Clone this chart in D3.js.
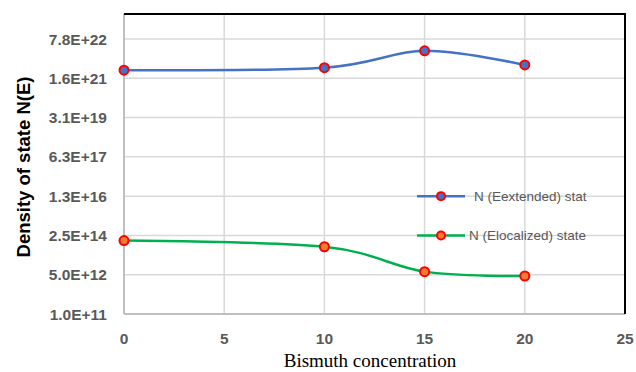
<!DOCTYPE html>
<html>
<head>
<meta charset="utf-8">
<script src="https://cdn.jsdelivr.net/npm/d3@7/dist/d3.min.js"></script>
<style>
  body { margin: 0; background: #fff; }
  svg { display: block; }
  .tick-label { font-family: "Liberation Sans", Arial, sans-serif; font-weight: bold; font-size: 15.5px; fill: #595959; }
</style>
</head>
<body>
<div id="chart"></div>
<script>
// data
var concentration = [0, 10, 15, 20],
    extendedState = [3.5e21, 4.5e21, 2.4e22, 5.9e21],
    localizedState = [1.5e14, 8.1e13, 6.8e12, 4.4e12];

var seriesNames = ["N (Eextended) stat", "N (Elocalized) state"];

var xTicks = [0, 5, 10, 15, 20, 25],
    yTicks = [1e11, 5e12, 2.5e14, 1.25e16, 6.25e17, 3.125e19, 1.5625e21, 7.8125e22],
    yTickLabels = ["1.0E+11", "5.0E+12", "2.5E+14", "1.3E+16", "6.3E+17", "3.1E+19", "1.6E+21", "7.8E+22"];

var W = 636, H = 372,
    plot = { l: 124, r: 625, t: 14, b: 314 };

var svg = d3.select("#chart")
  .append("svg")
    .attr("width", W)
    .attr("height", H);

var x = d3.scaleLinear()
      .domain([0, 25])
      .range([plot.l, plot.r]),
    // Excel log axis, base 50
    y = d3.scaleLog()
      .base(50)
      .domain([yTicks[0], yTicks[yTicks.length - 1]])
      .range([plot.b, 39]);

// grid
var grid = svg.append("g").attr("class", "grid");
grid.selectAll(".hgrid")
  .data(yTicks)
  .enter().append("line")
    .attr("x1", plot.l).attr("x2", plot.r)
    .attr("y1", function(d) { return y(d); })
    .attr("y2", function(d) { return y(d); })
    .attr("stroke", "#d9d9d9")
    .attr("stroke-width", 1.5);
grid.selectAll(".vgrid")
  .data(xTicks)
  .enter().append("line")
    .attr("x1", function(d) { return x(d); })
    .attr("x2", function(d) { return x(d); })
    .attr("y1", plot.t).attr("y2", plot.b)
    .attr("stroke", "#d9d9d9")
    .attr("stroke-width", 1.5);

// axis lines
svg.append("line")
    .attr("x1", plot.l).attr("x2", plot.r)
    .attr("y1", plot.b).attr("y2", plot.b)
    .attr("stroke", "#bfbfbf").attr("stroke-width", 2);
svg.append("line")
    .attr("x1", plot.l).attr("x2", plot.l)
    .attr("y1", plot.t).attr("y2", plot.b)
    .attr("stroke", "#bfbfbf").attr("stroke-width", 2);

// black frame on top and right
svg.append("path")
    .attr("d", "M" + plot.l + "," + plot.t + "H" + plot.r + "V" + plot.b)
    .attr("fill", "none")
    .attr("stroke", "#000")
    .attr("stroke-width", 2);

// tick labels
svg.selectAll(".ylab")
  .data(yTicks)
  .enter().append("text")
    .attr("class", "tick-label")
    .attr("x", 107)
    .attr("y", function(d) { return y(d); })
    .attr("dy", "0.36em")
    .attr("text-anchor", "end")
    .text(function(d, i) { return yTickLabels[i]; });
svg.selectAll(".xlab")
  .data(xTicks)
  .enter().append("text")
    .attr("class", "tick-label")
    .attr("x", function(d) { return x(d); })
    .attr("y", 344)
    .attr("text-anchor", "middle")
    .text(function(d) { return d; });

// axis titles
svg.append("text")
    .attr("transform", "translate(30," + ((plot.t + plot.b) / 2 + 3) + ") rotate(-90)")
    .attr("text-anchor", "middle")
    .style("font-family", "'Liberation Sans', Arial, sans-serif")
    .style("font-weight", "bold")
    .style("font-size", "18.5px")
    .attr("fill", "#000")
    .text("Density of state N(E)");
svg.append("text")
    .attr("x", 370)
    .attr("y", 367)
    .attr("text-anchor", "middle")
    .style("font-family", "'Liberation Serif', 'Times New Roman', serif")
    .style("font-size", "19px")
    .attr("fill", "#000")
    .text("Bismuth concentration");

// series
var series = [
  { name: seriesNames[0], values: extendedState, line: "#4472c4", fill: "#4472c4" },
  { name: seriesNames[1], values: localizedState, line: "#00b050", fill: "#ed7d31" }
];

var lineGen = d3.line()
    .x(function(d) { return x(d[0]); })
    .y(function(d) { return y(d[1]); })
    .curve(d3.curveCatmullRom.alpha(0));

series.forEach(function(s) {
  var pts = concentration.map(function(c, i) { return [c, s.values[i]]; });
  svg.append("path")
      .datum(pts)
      .attr("d", lineGen)
      .attr("fill", "none")
      .attr("stroke", s.line)
      .attr("stroke-width", 2.5);
  svg.selectAll(null)
    .data(pts)
    .enter().append("circle")
      .attr("cx", function(d) { return x(d[0]); })
      .attr("cy", function(d) { return y(d[1]); })
      .attr("r", 4.5)
      .attr("fill", s.fill)
      .attr("stroke", "#ff0000")
      .attr("stroke-width", 2);
});

// legend, sits on the 1.3E+16 and 2.5E+14 gridlines
var legend = svg.append("g").attr("class", "legend");
series.forEach(function(s, i) {
  var ly = y(yTicks[3 - i]);
  legend.append("line")
      .attr("x1", 417).attr("x2", 465)
      .attr("y1", ly).attr("y2", ly)
      .attr("stroke", s.line)
      .attr("stroke-width", 2.5);
  legend.append("circle")
      .attr("cx", 441).attr("cy", ly)
      .attr("r", 4)
      .attr("fill", s.fill)
      .attr("stroke", "#ff0000")
      .attr("stroke-width", 2);
  legend.append("text")
      .attr("x", i === 0 ? 474 : 469)
      .attr("y", ly)
      .attr("dy", "0.35em")
      .style("font-family", "'Liberation Sans', Arial, sans-serif")
      .style("font-size", "13.5px")
      .attr("fill", "#595959")
      .text(s.name);
});
</script>
</body>
</html>
